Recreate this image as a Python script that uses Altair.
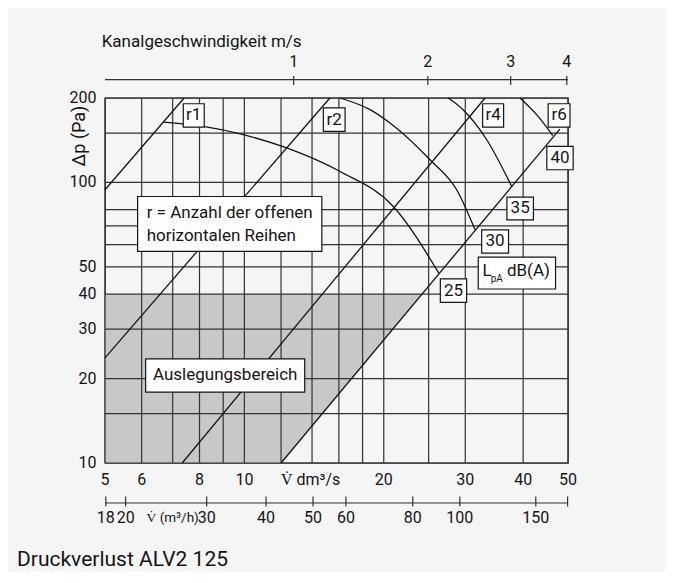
import math
import altair as alt
import pandas as pd

FONT = "Roboto"
INK = "#141414"
GRID = "#333333"
BG = "#f5f5f5"
SHADE = "#c8c8c8"

# ---------------- data ----------------
# grid lines and tick labels (V in dm³/s, Δp in Pa)
x_grid = [5, 6, 7, 8, 9, 10, 12, 14, 16, 18, 20, 25, 30, 40, 50]
y_grid = [10, 15, 20, 30, 40, 50, 60, 70, 80, 100, 150, 200]
x_tick_values = [5, 6, 8, 10, 20, 30, 40, 50]
x_unit_pos = 13.9
y_tick_values = [10, 20, 30, 40, 50, 100, 200]

# lines of constant number of open rows r (start / end points)
r_names = ["r1", "r2", "r4", "r6"]
r_v_start = [5.0, 5.0, 7.34, 12.0]
r_p_start = [94.2, 23.7, 10.0, 10.0]
r_v_end = [7.41, 15.3, 33.1, 48.0]
r_p_end = [200.0, 200.0, 200.0, 155.0]

# sound pressure level curves LpA dB(A)
c25_v = [6.68, 8.15, 9.95, 12.34, 16.09, 20.97, 26.3]
c25_p = [164.0, 158.4, 148.0, 132.7, 109.4, 82.1, 47.5]
c30_v = [16.09, 18.68, 20.63, 25.17, 28.74, 31.48]
c30_p = [200.0, 181.7, 162.9, 120.5, 94.2, 68.0]
c35_v = [27.57, 29.67, 33.38, 37.78]
c35_p = [200.0, 181.7, 142.0, 96.8]
c40_v = [39.38, 42.78, 46.34]
c40_p = [200.0, 174.4, 147.0]

# design range (Auslegungsbereich)
design_v = [5.0, 12.0, 24.2]
design_p_top = [40.0, 40.0, 40.0]
design_p_bottom = [10.0, 10.0, 40.0]

# duct velocity axis (m/s) at flow positions
vel_labels = ["1", "2", "3", "4"]
vel_v = [12.78, 24.9, 37.6, 49.7]

# flow axis in m³/h at flow positions (dm³/s)
flow_h_labels = ["18", "20", "30", "40", "50", "60", "80", "100", "150", ""]
flow_h_v = [5.02, 5.54, 8.29, 11.14, 14.07, 16.57, 23.1, 29.2, 42.6, 49.9]
flow_h_unit_v = 7.0

# label boxes
box_labels = ["r1", "r2", "r4", "r6", "40", "35", "30", "25"]
box_v1 = [7.38, 14.81, 32.7, 45.3, 45.0, 36.9, 32.55, 26.5]
box_v2 = [8.19, 16.5, 36.3, 50.5, 51.3, 42.1, 37.2, 30.2]
box_p1 = [190.8, 184.3, 190.8, 190.8, 134.4, 88.7, 67.8, 45.3]
box_p2 = [157.6, 152.0, 157.6, 157.6, 111.0, 73.6, 56.0, 37.35]

# large text boxes: r-legend, design range, LpA legend
big_v1 = [5.88, 6.12, 32.0]
big_v2 = [14.7, 13.5, 47.0]
big_p1 = [89.1, 23.5, 54.2]
big_p2 = [56.8, 17.9, 41.7]

# ---------------- chart ----------------
xs = alt.Scale(type="log", domain=[5, 50], nice=False)
ys = alt.Scale(type="log", domain=[10, 200], nice=False)

def X(f):
    return alt.X(f, scale=xs, axis=None)

def Y(f):
    return alt.Y(f, scale=ys, axis=None)

area = alt.Chart(pd.DataFrame({"v": design_v, "top": design_p_top, "bot": design_p_bottom})).mark_area(
    color=SHADE, opacity=1
).encode(x=X("v:Q"), y=Y("top:Q"), y2="bot:Q")

grid_x = alt.Chart(pd.DataFrame({"v": x_grid})).mark_rule(color=GRID, strokeWidth=1.2).encode(x=X("v:Q"))
grid_y = alt.Chart(pd.DataFrame({"p": y_grid})).mark_rule(color=GRID, strokeWidth=1.2).encode(y=Y("p:Q"))

# axis labels
xl = pd.DataFrame({"v": x_tick_values + [x_unit_pos],
                   "t": [str(v) for v in x_tick_values] + ["V\u0307 dm\u00b3/s"]})
x_labels = alt.Chart(xl).mark_text(font=FONT, fontSize=16, color=INK, baseline="middle").encode(
    x=X("v:Q"), y=alt.value(382.4), text="t:N"
)
yl = pd.DataFrame({"p": y_tick_values, "t": [str(p) for p in y_tick_values]})
y_labels = alt.Chart(yl).mark_text(font=FONT, fontSize=16, color=INK, baseline="middle", align="right").encode(
    y=Y("p:Q"), x=alt.value(-8.5), text="t:N"
)

rows = []
for n, v0, p0, v1, p1 in zip(r_names, r_v_start, r_p_start, r_v_end, r_p_end):
    rows.append({"name": n, "v": v0, "p": p0})
    rows.append({"name": n, "v": v1, "p": p1})
rlines = alt.Chart(pd.DataFrame(rows)).mark_line(color=INK, strokeWidth=1.3).encode(
    x=X("v:Q"), y=Y("p:Q"), detail="name:N"
)

crow = []
for n, vv, pp in [("25", c25_v, c25_p), ("30", c30_v, c30_p), ("35", c35_v, c35_p), ("40", c40_v, c40_p)]:
    for a, b in zip(vv, pp):
        crow.append({"name": n, "v": a, "p": b})
curves = alt.Chart(pd.DataFrame(crow)).mark_line(color=INK, strokeWidth=1.3, interpolate="monotone").encode(
    x=X("v:Q"), y=Y("p:Q"), detail="name:N"
)

bdf = pd.DataFrame({"t": box_labels, "v1": box_v1, "v2": box_v2, "p1": box_p1, "p2": box_p2})
bdf["vc"] = [math.sqrt(a * b) for a, b in zip(bdf.v1, bdf.v2)]
bdf["pc"] = [math.sqrt(a * b) for a, b in zip(bdf.p1, bdf.p2)]
gdf = pd.DataFrame({"v1": big_v1, "v2": big_v2, "p1": big_p1, "p2": big_p2})

def boxes(df):
    return alt.Chart(df).mark_rect(fill="white", stroke=INK, strokeWidth=1.2).encode(
        x=X("v1:Q"), x2="v2:Q", y=Y("p1:Q"), y2="p2:Q"
    )

small_boxes = boxes(bdf)
big_boxes = boxes(gdf)
box_text = alt.Chart(bdf).mark_text(font=FONT, fontSize=17, color=INK, align="center", baseline="middle").encode(
    x=X("vc:Q"), y=Y("pc:Q"), text="t:N"
)

def dtext(txt, v, p, size=17, align="left"):
    return alt.Chart(pd.DataFrame({"t": [txt], "v": [v], "p": [p]})).mark_text(
        font=FONT, fontSize=size, color=INK, align=align, baseline="middle"
    ).encode(x=X("v:Q"), y=Y("p:Q"), text="t:N")

def ptext(txt, px, py, size=17, align="left", angle=0):
    return alt.Chart(pd.DataFrame({"t": [txt]})).mark_text(
        font=FONT, fontSize=size, color=INK, align=align, baseline="middle", angle=angle
    ).encode(x=alt.value(px), y=alt.value(py), text="t:N")

texts = [
    dtext("r = Anzahl der offenen", 6.15, 77.8),
    dtext("horizontalen Reihen", 6.15, 64.7),
    dtext("Auslegungsbereich", math.sqrt(6.12 * 13.5), math.sqrt(23.5 * 17.9), align="center"),
    dtext("L", 32.7, 48.2),
    dtext("pA", 34.05, 45.3, size=10),
    dtext("dB(A)", 36.9, 48.2),
    ptext("Kanalgeschwindigkeit m/s", -3.3, -56),
    ptext("\u0394p (Pa)", -25, 38, size=18, align="center", angle=270),
    ptext("Druckverlust ALV2 125", -88, 461.7, size=21),
]

# top velocity axis
top_line = alt.Chart(pd.DataFrame({"a": [5], "b": [50]})).mark_rule(color=GRID, strokeWidth=1.2).encode(
    x=X("a:Q"), x2="b:Q", y=alt.value(-18.3)
)
vdf = pd.DataFrame({"v": vel_v, "t": vel_labels})
top_ticks = alt.Chart(vdf).mark_rule(color=GRID, strokeWidth=1.2).encode(
    x=X("v:Q"), y=alt.value(-22), y2=alt.value(-13)
)
top_labels = alt.Chart(vdf).mark_text(font=FONT, fontSize=16, color=INK, baseline="middle").encode(
    x=X("v:Q"), y=alt.value(-36), text="t:N"
)

# bottom m³/h axis
bot_line = alt.Chart(pd.DataFrame({"a": [5], "b": [50]})).mark_rule(color=GRID, strokeWidth=1.2).encode(
    x=X("a:Q"), x2="b:Q", y=alt.value(405)
)
fdf = pd.DataFrame({"v": flow_h_v, "t": flow_h_labels})
bot_ticks = alt.Chart(fdf).mark_rule(color=GRID, strokeWidth=1.2).encode(
    x=X("v:Q"), y=alt.value(398.5), y2=alt.value(408.5)
)
bot_labels = alt.Chart(fdf).mark_text(font=FONT, fontSize=16, color=INK, baseline="middle").encode(
    x=X("v:Q"), y=alt.value(420), text="t:N"
)
bot_unit = alt.Chart(pd.DataFrame({"v": [flow_h_unit_v], "t": ["V\u0307 (m\u00b3/h)"]})).mark_text(
    font=FONT, fontSize=13.5, color=INK, baseline="middle"
).encode(x=X("v:Q"), y=alt.value(420), text="t:N")

chart = alt.layer(
    area, grid_x, grid_y, rlines, curves, small_boxes, big_boxes, box_text, *texts,
    x_labels, y_labels,
    top_line, top_ticks, top_labels, bot_line, bot_ticks, bot_labels, bot_unit,
).properties(
    width=463, height=365,
    padding={"left": 97, "top": 90, "right": 98, "bottom": 108},
    autosize=alt.AutoSizeParams(type="none"),
    background=BG,
).configure_view(stroke=GRID, strokeWidth=1.3)

chart.save("out.html", embed_options={"renderer": "svg", "actions": False})
